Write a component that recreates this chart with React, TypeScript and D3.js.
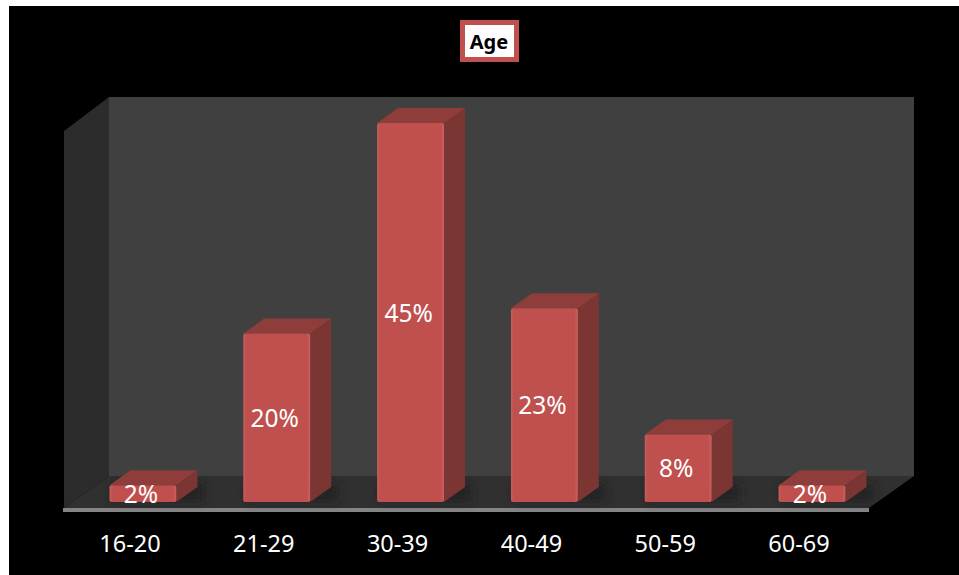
import React from "react";
import * as d3 from "d3";

const categories = ["16-20", "21-29", "30-39", "40-49", "50-59", "60-69"];
const percents = [2, 20, 45, 23, 8, 2];
const chartTitle = "Age";

const DX = 21, DY = -15;
const FONT = "'Noto Sans', 'Open Sans', sans-serif";

export default function App() {
  const x = d3.scaleBand<string>().domain(categories).range([65, 890]).paddingInner(0.5).paddingOuter(0.3326);
  const y = d3.scaleLinear().domain([0, 45]).range([502, 123]);
  const poly = (p: [number, number][]) => d3.line()(p) + "Z";
  return (
    <svg width={959} height={575} style={{ position: "absolute", left: 0, top: 0, background: "#fff" }}>
      <defs>
        <linearGradient id="front" x1="0" x2="1" y1="0" y2="0">
          <stop offset="0" stopColor="#c9605c" />
          <stop offset="0.04" stopColor="#c0504d" />
          <stop offset="0.95" stopColor="#c0504d" />
          <stop offset="1" stopColor="#cb615d" />
        </linearGradient>
        <filter id="soft" x="-30%" y="-60%" width="160%" height="220%"><feGaussianBlur stdDeviation="5" /></filter>
      </defs>
      <rect x={9} y={6} width={950} height={569} fill="#000" />
      <path d={poly([[64, 131], [109, 97], [109, 476], [64, 508]])} fill="#2c2c2c" />
      <rect x={109} y={97} width={805} height={379} fill="#404040" />
      <path d={poly([[64, 508], [109, 476], [914, 476], [869, 508]])} fill="#303030" />
      <rect x={63} y={508} width={806} height={4} fill="#848484" />
      {categories.map((c) => {
        const x0 = x(c)!, w = x.bandwidth();
        return <rect key={"s" + c} x={x0 + 4} y={484} width={w + 24} height={17} fill="#1c1c1c" opacity={0.7} filter="url(#soft)" />;
      })}
      {categories.map((c, i) => {
        const x0 = x(c)!, w = x.bandwidth(), top = y(percents[i]), base = y(0);
        return (
          <g key={c}>
            <path d={poly([[x0 + w, top], [x0 + w + DX, top + DY], [x0 + w + DX, base + DY], [x0 + w, base]])} fill="#7b3533" />
            <path d={poly([[x0, top], [x0 + DX, top + DY], [x0 + w + DX, top + DY], [x0 + w, top]])} fill="#8f3d3a" />
            <rect x={x0} y={top} width={w} height={base - top} rx={2} fill="url(#front)" />
          </g>
        );
      })}
      {categories.map((c, i) => {
        const cx = x(c)! + x.bandwidth() / 2 - 2, top = y(percents[i]), base = y(0);
        return (
          <text key={"v" + c} x={cx} y={(top + base) / 2 + 9} textAnchor="middle" fontFamily={FONT} fontSize={24.5} fill="#fff">
            {percents[i]}%
          </text>
        );
      })}
      {categories.map((c) => (
        <text key={"t" + c} x={x(c)! + x.bandwidth() / 2 - 13} y={552} textAnchor="middle" fontFamily={FONT} fontSize={23.5} fill="#fff">
          {c}
        </text>
      ))}
      <rect x={462.5} y={22.5} width={54} height={37} fill="#fff" stroke="#c0504d" strokeWidth={5} />
      <text x={489} y={49} textAnchor="middle" fontFamily={FONT} fontSize={20} fontWeight={700} fill="#000">{chartTitle}</text>
    </svg>
  );
}
